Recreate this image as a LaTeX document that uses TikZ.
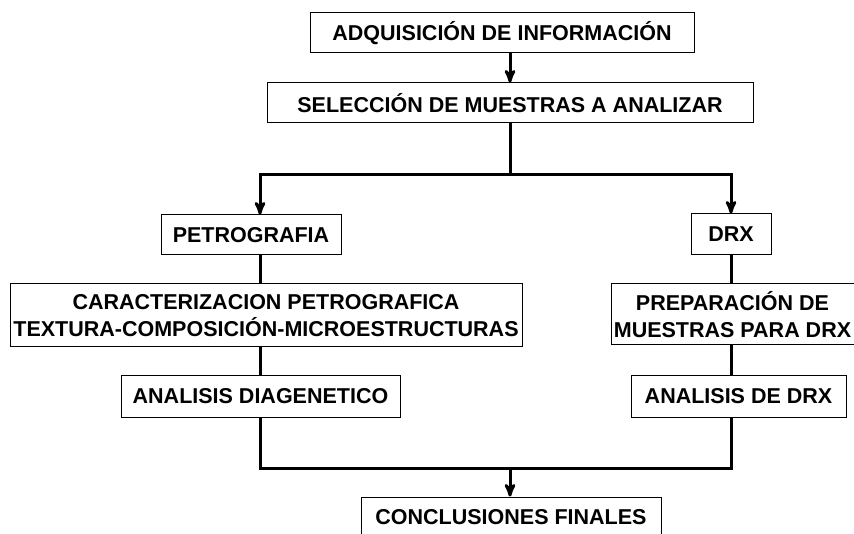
\documentclass[tikz,border=0pt]{standalone}
\usepackage{fontspec}
\setmainfont{Liberation Sans}
\usetikzlibrary{arrows}

\begin{document}
\begin{tikzpicture}[x=1pt,y=-1pt,>=stealth',
        box/.style={rectangle,draw,line width=1pt,inner sep=0pt,align=center,
            font=\fontsize{21.5}{27}\selectfont\bfseries},
        link/.style={line width=3pt}]
    \useasboundingbox (0,0) rectangle (854,534);

    \node[box,minimum width=384,minimum height=40] (adq) at (502,33) {ADQUISICIÓN DE INFORMACIÓN};
    \node[box,minimum width=486,minimum height=40] (sel) at (510,103) {SELECCIÓN DE MUESTRAS A ANALIZAR};

    % rama petrografia
    \node[box,minimum width=180,minimum height=40] (petro) at (251,235) {PETROGRAFIA};
    \node[box,minimum width=512,minimum height=63] (carac) at (266,315.5) {CARACTERIZACION PETROGRAFICA\\TEXTURA-COMPOSICIÓN-MICROESTRUCTURAS};
    \node[box,minimum width=279,minimum height=41] (diag) at (260.5,396.5) {ANALISIS DIAGENETICO};

    % rama drx
    \node[box,minimum width=80,minimum height=41] (drx) at (731,234.5) {DRX};
    \node[box,minimum width=243,minimum height=61] (prep) at (732.5,314.5) {PREPARACIÓN DE\\MUESTRAS PARA DRX};
    \node[box,minimum width=215,minimum height=41] (adrx) at (738.5,396.5) {ANALISIS DE DRX};

    \node[box,minimum width=300,minimum height=40] (concl) at (511,517) {CONCLUSIONES FINALES};

    \coordinate (split) at (510,175);
    \coordinate (join) at (510,468);
    \coordinate (lx) at (260,0);

    \draw[link,->] (adq.south -| sel.north) -- (sel.north);
    \draw[link] (sel.south) -- (split);
    \draw[link,->] (split) -| (lx |- petro.north);
    \draw[link,->] (split) -| (drx.north);
    \draw[link] (lx |- petro.south) -- (lx |- carac.north);
    \draw[link] (lx |- carac.south) -- (lx |- diag.north);
    \draw[link] (drx.south) -- (drx.south |- prep.north);
    \draw[link] (drx.south |- prep.south) -- (drx.south |- adrx.north);
    \draw[link] (lx |- diag.south) |- (join);
    \draw[link] (drx.south |- adrx.south) |- (join);
    \draw[link,->] (join) -- (concl.north -| join);
\end{tikzpicture}
\end{document}
